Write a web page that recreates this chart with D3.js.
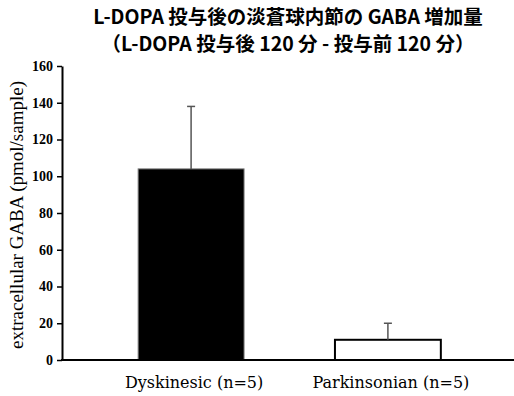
<!DOCTYPE html>
<html><head><meta charset="utf-8">
<script src="https://cdn.jsdelivr.net/npm/d3@7"></script>
<style>body{margin:0;background:#fff}svg{display:block}</style>
</head><body>
<svg id="c" width="514" height="396"></svg>
<script>
const titleLines = ["L-DOPA 投与後の淡蒼球内節の GABA 増加量", "（L-DOPA 投与後 120 分 - 投与前 120 分）"];
const categories = ["Dyskinesic (n=5)", "Parkinsonian (n=5)"];
const values = [104, 11];
const errors = [34, 9];
const yTicks = [0, 20, 40, 60, 80, 100, 120, 140, 160];
const yLabel = "extracellular GABA (pmol/sample)";

const svg = d3.select("#c");
const x0 = 62, x1 = 517, yTop = 66, yBot = 360;
const x = d3.scaleBand().domain(categories).range([x0, x1]).paddingInner(0.462).paddingOuter(0.387);
const y = d3.scaleLinear().domain([0, 160]).range([yBot, yTop]);

svg.selectAll("text.title").data(titleLines).join("text")
  .attr("x", 288).attr("y", (d, i) => 24 + i * 27)
  .attr("text-anchor", "middle")
  .attr("font-family", "'Noto Sans CJK JP'").attr("font-weight", "bold").attr("font-size", 19.5)
  .text(d => d);

const fills = ["#000", "#fff"];
const strokes = ["#777", "#000"];
svg.selectAll("rect.bar").data(values).join("rect")
  .attr("x", (d, i) => x(categories[i])).attr("width", x.bandwidth())
  .attr("y", d => y(d)).attr("height", d => yBot - y(d))
  .attr("fill", (d, i) => fills[i]).attr("stroke", (d, i) => strokes[i])
  .attr("stroke-width", (d, i) => i ? 2 : 1);

const eg = svg.append("g");
values.forEach((v, i) => {
  const cx = x(categories[i]) + x.bandwidth() / 2;
  eg.append("line").attr("x1", cx).attr("x2", cx).attr("y1", y(v)).attr("y2", y(v + errors[i]))
    .attr("stroke", "#555").attr("stroke-width", 1.5);
  eg.append("line").attr("x1", cx - 4).attr("x2", cx + 4).attr("y1", y(v + errors[i])).attr("y2", y(v + errors[i]))
    .attr("stroke", "#555").attr("stroke-width", 1.5);
});

const ya = svg.append("g").attr("transform", `translate(${x0},0)`)
  .call(d3.axisLeft(y).tickValues(yTicks).tickSize(5).tickSizeOuter(0));
ya.select(".domain").attr("stroke", "#000").attr("stroke-width", 2);
ya.selectAll(".tick line").attr("stroke", "#000").attr("stroke-width", 1.5);
ya.selectAll(".tick text").attr("font-family", "'Liberation Serif'").attr("font-weight", "bold")
  .attr("font-size", 14).attr("fill", "#000").attr("dx", -1);

svg.append("line").attr("x1", x0 - 1).attr("x2", 514).attr("y1", yBot).attr("y2", yBot)
  .attr("stroke", "#000").attr("stroke-width", 2);

svg.selectAll("text.xl").data(categories).join("text")
  .attr("x", d => x(d) + x.bandwidth() / 2 + 3).attr("y", 388)
  .attr("text-anchor", "middle").attr("font-family", "'DejaVu Serif'").attr("font-size", 16)
  .text(d => d);

svg.append("text").attr("transform", `translate(23,${(yTop + yBot) / 2 + 2}) rotate(-90)`)
  .attr("text-anchor", "middle").attr("font-family", "'Liberation Serif'").attr("font-size", 19)
  .text(yLabel);
</script>
</body></html>
